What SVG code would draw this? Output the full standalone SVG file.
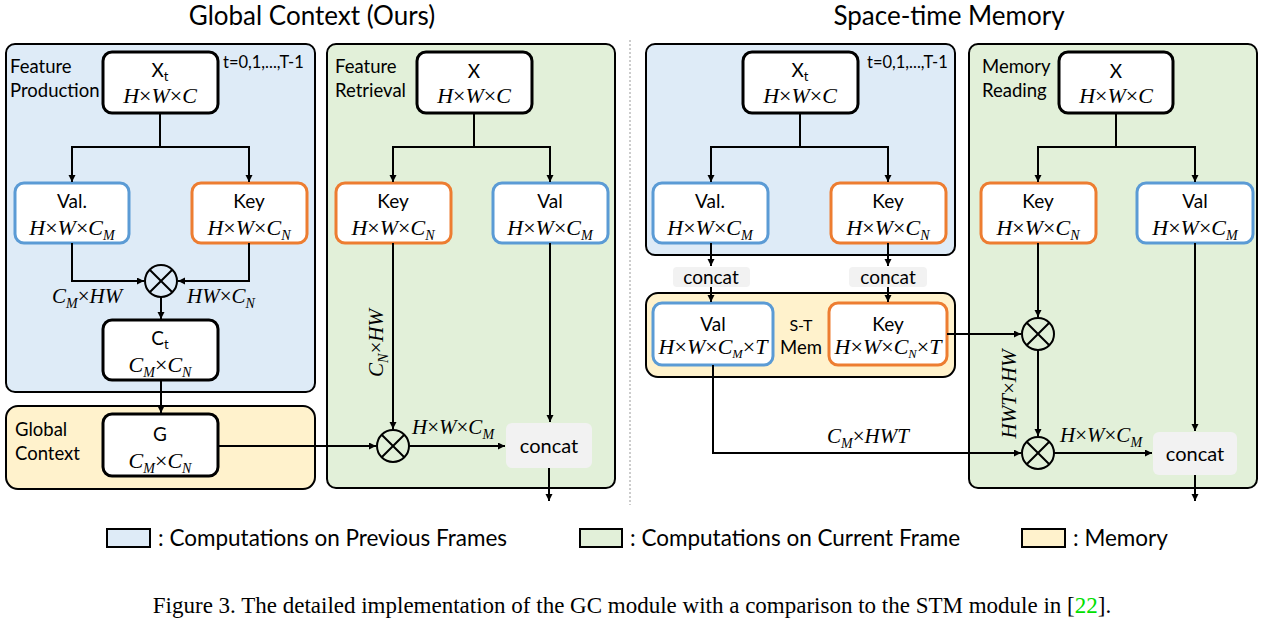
<svg xmlns="http://www.w3.org/2000/svg" width="1265" height="620" viewBox="0 0 1265 620">
<style>
.panel{stroke:#000;stroke-width:2}
.pb{fill:#DEEBF7}.pg{fill:#E2F0D9}.py{fill:#FFF2CC}
.box{fill:#fff;stroke:#000;stroke-width:3}
.bv{fill:#fff;stroke:#5B9BD5;stroke-width:3}
.bk{fill:#fff;stroke:#ED7D31;stroke-width:3}
.cc{fill:#F2F2F2}
.arr{fill:none;stroke:#000;stroke-width:2;marker-end:url(#ah)}
.mul{fill:none;stroke:#000;stroke-width:2}
.s{font-family:Lato,"Liberation Sans",sans-serif;fill:#000}
.lbl{font-size:19px;text-anchor:middle}
.note{font-size:18.5px}
.tt{font-size:16.5px}
.m{font-family:"Liberation Serif","Times New Roman",serif;font-style:italic;fill:#000;font-size:22px}
.ms{font-size:21px}
.op{font-style:normal}
.mid{text-anchor:middle}
</style>
<defs>
<marker id="ah" markerUnits="userSpaceOnUse" markerWidth="8" markerHeight="8" refX="7" refY="3.5" orient="auto">
<path d="M0,0 L7,3.5 L0,7 z" fill="#000"/>
</marker>
</defs>

<!-- titles -->
<text class="s" x="312" y="25" font-size="26" text-anchor="middle">Global Context (Ours)</text>
<text class="s" x="949" y="25" font-size="26" text-anchor="middle">Space-time Memory</text>
<line x1="630" y1="40" x2="630" y2="505" stroke="#999" stroke-width="1" stroke-dasharray="2,2"/>

<!-- panels -->
<g id="panel-feature-production"><rect class="panel pb" x="6" y="44" width="309" height="348" rx="9"/>
<text class="s note" x="10" y="73">Feature</text><text class="s note" x="10" y="97">Production</text>
<text class="s tt" x="223" y="68">t=0,1,...,T-1</text></g>
<g id="panel-global-context"><rect class="panel py" x="6" y="406" width="309" height="83" rx="12"/>
<text class="s note" x="15" y="436">Global</text><text class="s note" x="15" y="460">Context</text></g>
<g id="panel-feature-retrieval"><rect class="panel pg" x="327" y="44" width="288" height="444" rx="9"/>
<text class="s note" x="335" y="73">Feature</text><text class="s note" x="335" y="97">Retrieval</text></g>
<g id="panel-stm-prev"><rect class="panel pb" x="646" y="44" width="309" height="211" rx="9"/>
<text class="s tt" x="867" y="68">t=0,1,...,T-1</text></g>
<g id="panel-stm-mem"><rect class="panel py" x="646" y="293" width="309" height="84" rx="12"/>
<text class="s" x="801" y="331" font-size="16" text-anchor="middle">S-T</text>
<text class="s" x="801" y="354" font-size="18.5" text-anchor="middle">Mem</text></g>
<g id="panel-memory-reading"><rect class="panel pg" x="969" y="44" width="288" height="444" rx="9"/>
<text class="s note" x="982" y="73">Memory</text><text class="s note" x="982" y="97">Reading</text></g>

<!-- left nodes -->
<g id="gc-xt"><rect class="box" x="103" y="52" width="115" height="61" rx="9"/>
<text class="s lbl" x="160" y="77">X<tspan font-size="13" dy="4">t</tspan></text>
<text class="m mid" x="160" y="103">H<tspan class="op">×</tspan>W<tspan class="op">×</tspan>C</text></g>
<g id="gc-val"><rect class="bv" x="15" y="183" width="114" height="60" rx="9"/>
<text class="s lbl" x="72" y="208">Val.</text>
<text class="m mid" x="72" y="235">H<tspan class="op">×</tspan>W<tspan class="op">×</tspan>C<tspan font-size="14" dy="5">M</tspan></text></g>
<g id="gc-key"><rect class="bk" x="192" y="183" width="115" height="60" rx="9"/>
<text class="s lbl" x="249" y="208">Key</text>
<text class="m mid" x="249" y="235">H<tspan class="op">×</tspan>W<tspan class="op">×</tspan>C<tspan font-size="14" dy="5">N</tspan></text></g>
<g id="gc-mul1"><circle class="mul" cx="161" cy="281" r="16"/><path class="mul" d="M149.7,269.7 L172.3,292.3 M172.3,269.7 L149.7,292.3"/></g>
<g id="gc-ct"><rect class="box" x="103" y="320" width="115" height="60" rx="9"/>
<text class="s lbl" x="160" y="345">C<tspan font-size="13" dy="4">t</tspan></text>
<text class="m mid" x="160" y="372">C<tspan font-size="14" dy="5">M</tspan><tspan class="op" dy="-5">×</tspan>C<tspan font-size="14" dy="5">N</tspan></text></g>
<g id="gc-g"><rect class="box" x="103" y="414" width="115" height="62" rx="9"/>
<text class="s lbl" x="160" y="441">G</text>
<text class="m mid" x="160" y="468">C<tspan font-size="14" dy="5">M</tspan><tspan class="op" dy="-5">×</tspan>C<tspan font-size="14" dy="5">N</tspan></text></g>
<g id="gc-x"><rect class="box" x="417" y="52" width="115" height="61" rx="9"/>
<text class="s lbl" x="474" y="78">X</text>
<text class="m mid" x="474" y="103">H<tspan class="op">×</tspan>W<tspan class="op">×</tspan>C</text></g>
<g id="gc-key2"><rect class="bk" x="336" y="183" width="115" height="60" rx="9"/>
<text class="s lbl" x="393" y="208">Key</text>
<text class="m mid" x="393" y="235">H<tspan class="op">×</tspan>W<tspan class="op">×</tspan>C<tspan font-size="14" dy="5">N</tspan></text></g>
<g id="gc-val2"><rect class="bv" x="493" y="183" width="115" height="60" rx="9"/>
<text class="s lbl" x="550" y="208">Val</text>
<text class="m mid" x="550" y="235">H<tspan class="op">×</tspan>W<tspan class="op">×</tspan>C<tspan font-size="14" dy="5">M</tspan></text></g>
<g id="gc-mul2"><circle class="mul" cx="393" cy="446" r="16"/><path class="mul" d="M381.7,434.7 L404.3,457.3 M404.3,434.7 L381.7,457.3"/></g>
<g id="gc-concat"><rect class="cc" x="506" y="423" width="86" height="45" rx="6"/>
<text class="s" x="549" y="453" font-size="20" text-anchor="middle">concat</text></g>

<!-- right nodes -->
<g id="stm-xt"><rect class="box" x="743" y="52" width="115" height="61" rx="9"/>
<text class="s lbl" x="800" y="77">X<tspan font-size="13" dy="4">t</tspan></text>
<text class="m mid" x="800" y="103">H<tspan class="op">×</tspan>W<tspan class="op">×</tspan>C</text></g>
<g id="stm-val"><rect class="bv" x="653" y="183" width="115" height="60" rx="9"/>
<text class="s lbl" x="710" y="208">Val.</text>
<text class="m mid" x="710" y="235">H<tspan class="op">×</tspan>W<tspan class="op">×</tspan>C<tspan font-size="14" dy="5">M</tspan></text></g>
<g id="stm-key"><rect class="bk" x="831" y="183" width="115" height="60" rx="9"/>
<text class="s lbl" x="888" y="208">Key</text>
<text class="m mid" x="888" y="235">H<tspan class="op">×</tspan>W<tspan class="op">×</tspan>C<tspan font-size="14" dy="5">N</tspan></text></g>
<g id="stm-concat1"><rect class="cc" x="673" y="267" width="77" height="20" rx="4"/>
<text class="s" x="711" y="284" font-size="19" text-anchor="middle">concat</text></g>
<g id="stm-concat2"><rect class="cc" x="849" y="267" width="78" height="20" rx="4"/>
<text class="s" x="888" y="284" font-size="19" text-anchor="middle">concat</text></g>
<g id="stm-memval"><rect class="bv" x="653" y="303" width="120" height="62" rx="9"/>
<text class="s lbl" x="713" y="331">Val</text>
<text class="m mid" x="713" y="354" font-size="18">H<tspan class="op">×</tspan>W<tspan class="op">×</tspan>C<tspan font-size="12.5" dy="4">M</tspan><tspan class="op" dy="-4">×</tspan>T</text></g>
<g id="stm-memkey"><rect class="bk" x="829" y="303" width="118" height="62" rx="9"/>
<text class="s lbl" x="888" y="331">Key</text>
<text class="m mid" x="888" y="354" font-size="18">H<tspan class="op">×</tspan>W<tspan class="op">×</tspan>C<tspan font-size="12.5" dy="4">N</tspan><tspan class="op" dy="-4">×</tspan>T</text></g>
<g id="stm-x"><rect class="box" x="1059" y="52" width="114" height="61" rx="9"/>
<text class="s lbl" x="1116" y="78">X</text>
<text class="m mid" x="1116" y="103">H<tspan class="op">×</tspan>W<tspan class="op">×</tspan>C</text></g>
<g id="stm-key2"><rect class="bk" x="981" y="183" width="115" height="60" rx="9"/>
<text class="s lbl" x="1038" y="208">Key</text>
<text class="m mid" x="1038" y="235">H<tspan class="op">×</tspan>W<tspan class="op">×</tspan>C<tspan font-size="14" dy="5">N</tspan></text></g>
<g id="stm-val2"><rect class="bv" x="1137" y="183" width="116" height="60" rx="9"/>
<text class="s lbl" x="1195" y="208">Val</text>
<text class="m mid" x="1195" y="235">H<tspan class="op">×</tspan>W<tspan class="op">×</tspan>C<tspan font-size="14" dy="5">M</tspan></text></g>
<g id="stm-mul1"><circle class="mul" cx="1038" cy="334" r="16"/><path class="mul" d="M1026.7,322.7 L1049.3,345.3 M1049.3,322.7 L1026.7,345.3"/></g>
<g id="stm-mul2"><circle class="mul" cx="1038" cy="453" r="16"/><path class="mul" d="M1026.7,441.7 L1049.3,464.3 M1049.3,441.7 L1026.7,464.3"/></g>
<g id="stm-concat"><rect class="cc" x="1153" y="432" width="84" height="43" rx="6"/>
<text class="s" x="1195" y="461" font-size="20" text-anchor="middle">concat</text></g>

<!-- connectors -->
<g id="connectors">
<path class="arr" d="M160,113 V147 H72 V182"/>
<path class="arr" d="M160,147 H249 V182"/>
<path class="arr" d="M72,243 V281 H144"/>
<path class="arr" d="M249,243 V281 H178"/>
<path class="arr" d="M161,297 V319"/>
<path class="arr" d="M161,380 V413"/>
<path class="arr" d="M218,446 H376"/>
<path class="arr" d="M474,113 V147 H393 V182"/>
<path class="arr" d="M474,147 H550 V182"/>
<path class="arr" d="M393,243 V429"/>
<path class="arr" d="M550,243 V422"/>
<path class="arr" d="M409,446 H505"/>
<path class="arr" d="M549,468 V501"/>
<path class="arr" d="M800,113 V147 H711 V182"/>
<path class="arr" d="M800,147 H888 V182"/>
<path class="arr" d="M711,243 V266"/>
<path class="arr" d="M711,287 V302"/>
<path class="arr" d="M888,243 V266"/>
<path class="arr" d="M888,287 V302"/>
<path class="arr" d="M713,365 V453 H1021"/>
<path class="arr" d="M947,334 H1021"/>
<path class="arr" d="M1116,113 V147 H1038 V182"/>
<path class="arr" d="M1116,147 H1195 V182"/>
<path class="arr" d="M1038,243 V317"/>
<path class="arr" d="M1038,350 V436"/>
<path class="arr" d="M1054,453 H1152"/>
<path class="arr" d="M1195,243 V431"/>
<path class="arr" d="M1195,475 V501"/>
<!-- connector labels -->
<text class="m ms" x="52" y="303">C<tspan font-size="14" dy="5">M</tspan><tspan class="op" dy="-5">×</tspan>HW</text>
<text class="m ms" x="187" y="303">HW<tspan class="op">×</tspan>C<tspan font-size="14" dy="5">N</tspan></text>
<text class="m ms mid" x="383" y="343" transform="rotate(-90 383 343)">C<tspan font-size="14" dy="5">N</tspan><tspan class="op" dy="-5">×</tspan>HW</text>
<text class="m ms" x="412" y="434">H<tspan class="op">×</tspan>W<tspan class="op">×</tspan>C<tspan font-size="14" dy="5">M</tspan></text>
<text class="m ms mid" x="868" y="443">C<tspan font-size="14" dy="5">M</tspan><tspan class="op" dy="-5">×</tspan>HWT</text>
<text class="m ms mid" x="1016" y="394" transform="rotate(-90 1016 394)">HWT<tspan class="op">×</tspan>HW</text>
<text class="m ms" x="1060" y="442">H<tspan class="op">×</tspan>W<tspan class="op">×</tspan>C<tspan font-size="14" dy="5">M</tspan></text>
</g>

<!-- legend -->
<g id="legend">
<rect class="panel pb" x="107" y="529" width="43" height="18"/>
<text class="s" x="158" y="546" font-size="22.5">: Computations on Previous Frames</text>
<rect class="panel pg" x="580" y="529" width="42" height="18"/>
<text class="s" x="630" y="546" font-size="22.5">: Computations on Current Frame</text>
<rect class="panel py" x="1022" y="529" width="43" height="18"/>
<text class="s" x="1073" y="546" font-size="22.5">: Memory</text>
</g>

<text x="632" y="613" font-family="Liberation Serif, Times New Roman, serif" font-size="23" text-anchor="middle" fill="#000">Figure 3. The detailed implementation of the GC module with a comparison to the STM module in [<tspan fill="#00E000">22</tspan>].</text>
</svg>
